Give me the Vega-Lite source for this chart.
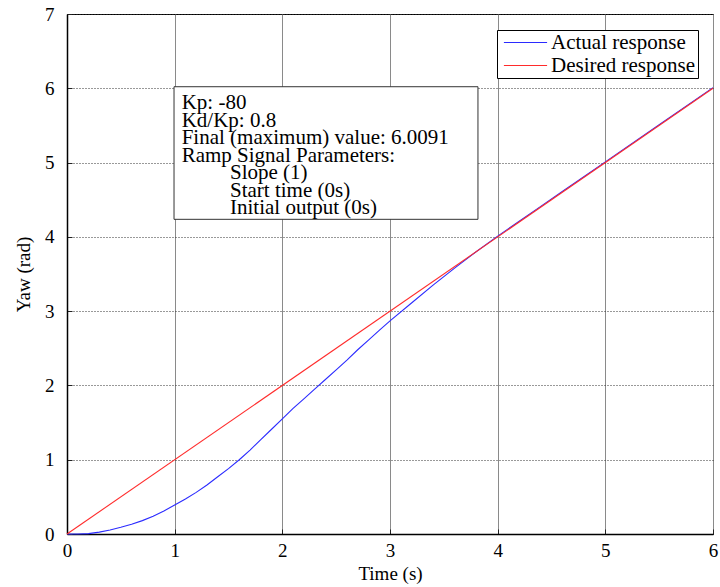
{
  "$schema": "https://vega.github.io/schema/vega-lite/v6.json",
  "width": 646,
  "height": 520,
  "autosize": "none",
  "padding": {"left": 67, "top": 14, "right": 7, "bottom": 53},
  "background": "white",
  "config": {
    "font": "Liberation Serif",
    "view": {"stroke": "black", "strokeWidth": 1},
    "axis": {
      "labelFont": "Liberation Serif",
      "labelFontSize": 19,
      "labelColor": "black",
      "titleFont": "Liberation Serif",
      "titleFontSize": 19,
      "titleFontWeight": "normal",
      "titleColor": "black",
      "domainColor": "black",
      "domainWidth": 1.5,
      "tickColor": "#222222",
      "tickSize": -5,
      "tickWidth": 1,
      "labelFlush": false,
      "labelOverlap": false,
      "grid": true,
      "format": "d"
    }
  },
  "datasets": {
    "resp": [
      {"t": 0, "yaw": 0, "series": "Actual response"},
      {"t": 0.1, "yaw": 0.0, "series": "Actual response"},
      {"t": 0.2, "yaw": 0.005, "series": "Actual response"},
      {"t": 0.3, "yaw": 0.025, "series": "Actual response"},
      {"t": 0.4, "yaw": 0.055, "series": "Actual response"},
      {"t": 0.5, "yaw": 0.09, "series": "Actual response"},
      {"t": 0.6, "yaw": 0.13, "series": "Actual response"},
      {"t": 0.7, "yaw": 0.18, "series": "Actual response"},
      {"t": 0.8, "yaw": 0.24, "series": "Actual response"},
      {"t": 0.9, "yaw": 0.31, "series": "Actual response"},
      {"t": 1.0, "yaw": 0.39, "series": "Actual response"},
      {"t": 1.1, "yaw": 0.47, "series": "Actual response"},
      {"t": 1.2, "yaw": 0.56, "series": "Actual response"},
      {"t": 1.3, "yaw": 0.66, "series": "Actual response"},
      {"t": 1.4, "yaw": 0.77, "series": "Actual response"},
      {"t": 1.5, "yaw": 0.88, "series": "Actual response"},
      {"t": 1.6, "yaw": 1.0, "series": "Actual response"},
      {"t": 1.7, "yaw": 1.13, "series": "Actual response"},
      {"t": 1.8, "yaw": 1.27, "series": "Actual response"},
      {"t": 1.9, "yaw": 1.41, "series": "Actual response"},
      {"t": 2.0, "yaw": 1.55, "series": "Actual response"},
      {"t": 2.1, "yaw": 1.69, "series": "Actual response"},
      {"t": 2.2, "yaw": 1.82, "series": "Actual response"},
      {"t": 2.3, "yaw": 1.95, "series": "Actual response"},
      {"t": 2.4, "yaw": 2.08, "series": "Actual response"},
      {"t": 2.5, "yaw": 2.21, "series": "Actual response"},
      {"t": 2.6, "yaw": 2.34, "series": "Actual response"},
      {"t": 2.7, "yaw": 2.48, "series": "Actual response"},
      {"t": 2.8, "yaw": 2.61, "series": "Actual response"},
      {"t": 2.9, "yaw": 2.74, "series": "Actual response"},
      {"t": 3.0, "yaw": 2.87, "series": "Actual response"},
      {"t": 3.2, "yaw": 3.11, "series": "Actual response"},
      {"t": 3.4, "yaw": 3.35, "series": "Actual response"},
      {"t": 3.6, "yaw": 3.58, "series": "Actual response"},
      {"t": 3.8, "yaw": 3.8, "series": "Actual response"},
      {"t": 4.0, "yaw": 4.01, "series": "Actual response"},
      {"t": 4.2, "yaw": 4.21, "series": "Actual response"},
      {"t": 4.4, "yaw": 4.41, "series": "Actual response"},
      {"t": 4.6, "yaw": 4.61, "series": "Actual response"},
      {"t": 4.8, "yaw": 4.81, "series": "Actual response"},
      {"t": 5.0, "yaw": 5.01, "series": "Actual response"},
      {"t": 5.5, "yaw": 5.51, "series": "Actual response"},
      {"t": 6.0, "yaw": 6.009, "series": "Actual response"},
      {"t": 0, "yaw": 0, "series": "Desired response"},
      {"t": 6, "yaw": 6, "series": "Desired response"}
    ],
    "box": [
      {"x1": 0.994, "x2": 3.817, "y1": 6.021, "y2": 4.236}
    ],
    "notes": [
      {"label": "Kp: -80", "x": 1.065, "y": 5.717},
      {"label": "Kd/Kp: 0.8", "x": 1.065, "y": 5.482},
      {"label": "Final (maximum) value: 6.0091", "x": 1.065, "y": 5.246},
      {"label": "Ramp Signal Parameters:", "x": 1.065, "y": 5.01},
      {"label": "Slope (1)", "x": 1.514, "y": 4.775},
      {"label": "Start time (0s)", "x": 1.514, "y": 4.539},
      {"label": "Initial output (0s)", "x": 1.514, "y": 4.304}
    ]
  },
  "layer": [
    {
      "data": {"name": "resp"},
      "mark": {"type": "line", "strokeWidth": 1.1},
      "encoding": {
        "x": {
          "field": "t", "type": "quantitative",
          "scale": {"domain": [0, 6], "nice": false, "zero": false},
          "axis": {"values": [0, 1, 2, 3, 4, 5, 6], "title": "Time (s)", "labelPadding": 12, "titlePadding": 4, "gridColor": "#8a8a8a", "gridWidth": 1}
        },
        "y": {
          "field": "yaw", "type": "quantitative",
          "scale": {"domain": [0, 7], "nice": false},
          "axis": {"values": [0, 1, 2, 3, 4, 5, 6, 7], "title": "Yaw (rad)", "labelPadding": 18, "titlePadding": 11, "gridColor": "#333333", "gridDash": [1, 2], "gridWidth": 1}
        },
        "color": {
          "field": "series", "type": "nominal",
          "scale": {"domain": ["Actual response", "Desired response"], "range": ["#2b2bff", "#ff2b2b"]},
          "legend": {
            "orient": "none", "legendX": 430, "legendY": 16,
            "title": null, "direction": "vertical",
            "symbolType": "M-4.8,0H4.8", "symbolSize": 81, "symbolStrokeWidth": 1,
            "symbolOffset": 16, "labelOffset": 15,
            "labelFont": "Liberation Serif", "labelFontSize": 21, "labelColor": "black", "labelLimit": 400,
            "rowPadding": 1, "padding": 2,
            "strokeColor": "black", "fillColor": "white"
          }
        }
      }
    },
    {
      "data": {"name": "box"},
      "mark": {"type": "rect", "fill": "white", "stroke": "#333333", "strokeWidth": 1},
      "encoding": {
        "x": {"field": "x1", "type": "quantitative"},
        "x2": {"field": "x2"},
        "y": {"field": "y1", "type": "quantitative"},
        "y2": {"field": "y2"}
      }
    },
    {
      "data": {"name": "notes"},
      "mark": {"type": "text", "align": "left", "baseline": "alphabetic", "fontSize": 21, "font": "Liberation Serif", "color": "black"},
      "encoding": {
        "x": {"field": "x", "type": "quantitative"},
        "y": {"field": "y", "type": "quantitative"},
        "text": {"field": "label"}
      }
    }
  ]
}
